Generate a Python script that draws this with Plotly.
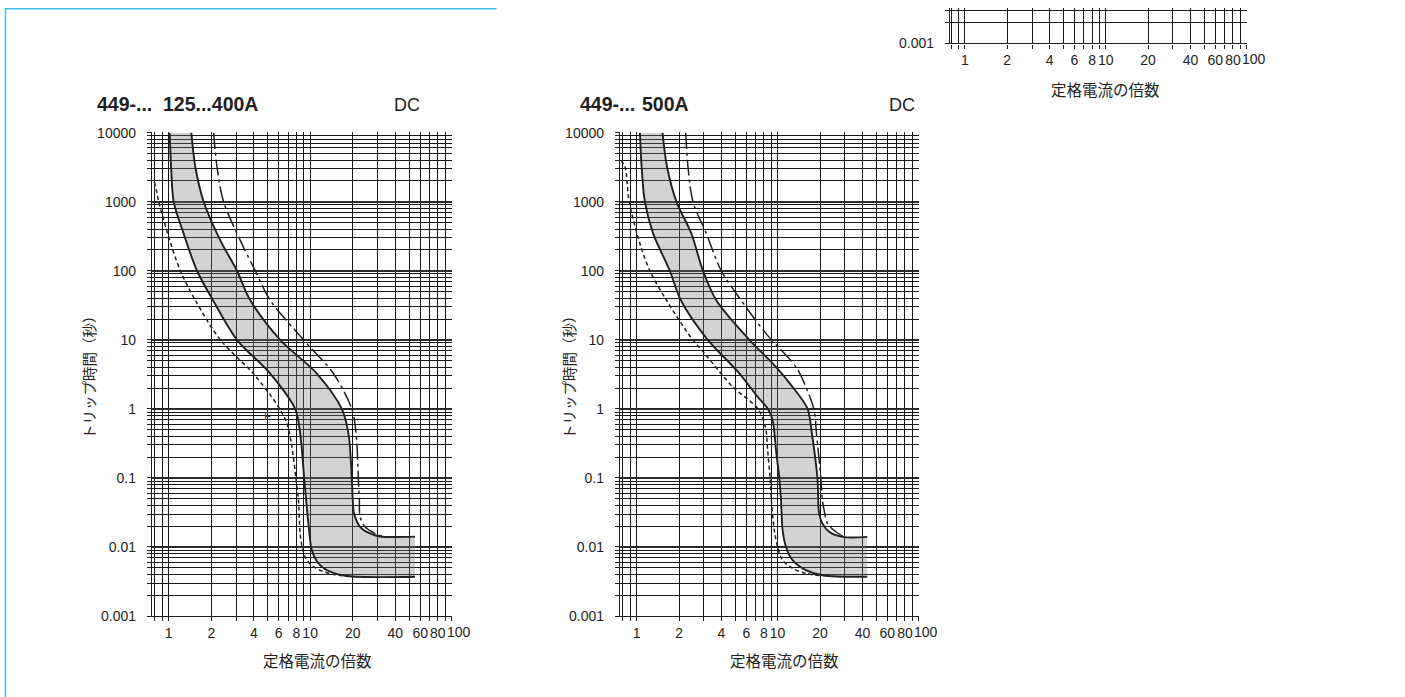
import plotly.graph_objects as go

# ---------------- axis ticks ----------------
x_major = [1, 2, 4, 6, 8, 10, 20, 40, 60, 80, 100]
x_major_text = ["1", "2", "4", "6", "8", "10", "20", "40", "60", "80", ""]
x_last_label = "100"
x_minor = [0.8, 0.9, 3, 5, 7, 9, 30, 50, 70, 90]
y_major = [0.001, 0.01, 0.1, 1, 10, 100, 1000, 10000]
y_major_text = ["0.001", "0.01", "0.1", "1", "10", "100", "1000", "10000"]
y_minor = [0.002, 0.003, 0.004, 0.005, 0.006, 0.007, 0.008, 0.009,
           0.02, 0.03, 0.04, 0.05, 0.06, 0.07, 0.08, 0.09,
           0.2, 0.3, 0.4, 0.5, 0.6, 0.7, 0.8, 0.9,
           2, 3, 4, 5, 6, 7, 8, 9,
           20, 30, 40, 50, 60, 70, 80, 90,
           200, 300, 400, 500, 600, 700, 800, 900,
           2000, 3000, 4000, 5000, 6000, 7000, 8000, 9000]

# ---------------- 449-... 125...400A (DC) ----------------
L_lo_I = [1.016, 1.04, 1.085, 1.276, 1.586, 2.058, 3.039, 5.222, 7.838, 8.50, 9.07, 9.37, 9.89, 10.28, 11.45, 13.84, 18.16, 55.1]
L_lo_t = [10000, 3180, 1000, 345, 100, 37.4, 10, 3.25, 1.0, 0.445, 0.1, 0.0477, 0.0157, 0.009, 0.0058, 0.00438, 0.0038, 0.0037]
L_hi_I = [1.446, 1.543, 1.766, 2.317, 3.039, 3.773, 6.142, 11.15, 16.74, 18.64, 19.70, 20.01, 20.44, 22.54, 26.5, 31.2, 55.1]
L_hi_t = [10000, 3180, 1000, 276, 100, 37.4, 10, 3.25, 1.0, 0.445, 0.1, 0.0477, 0.0306, 0.0196, 0.0157, 0.0142, 0.0141]
L_dl_I = [0.793, 0.819, 0.850, 0.984, 1.209, 1.543, 2.317, 3.961, 5.974, 6.848, 7.429, 7.966, 8.27, 8.50, 8.88, 9.48, 10.55, 12.41, 15.01, 19.16]
L_dl_t = [1910, 1462, 1000, 345, 100, 37.4, 10, 3.25, 1.07, 0.615, 0.282, 0.093, 0.0477, 0.0157, 0.009, 0.00646, 0.00518, 0.00438, 0.00396, 0.00375]
L_dd_I = [2.078, 2.196, 2.444, 3.206, 4.092, 5.222, 8.97, 14.6, 19.70, 21.12, 21.92, 22.28, 22.54, 24.44, 28.75, 32.9]
L_dd_t = [10000, 3180, 1000, 276, 100, 37.4, 10, 3.25, 1.0, 0.445, 0.1, 0.0477, 0.0273, 0.0196, 0.0157, 0.0141]

# ---------------- 449-... 500A (DC) ----------------
R_lo_I = [1.055, 1.085, 1.144, 1.31, 1.719, 2.06, 3.121, 5.364, 7.224, 8.5, 9.22, 9.74, 10.28, 10.57, 10.85, 11.47, 12.76, 15.87, 20.78, 43.2]
R_lo_t = [10000, 3180, 1000, 345, 100, 37.4, 10.6, 3.25, 1.49, 1.01, 0.687, 0.252, 0.1, 0.0477, 0.0176, 0.01, 0.00646, 0.00463, 0.0039, 0.0037]
R_hi_I = [1.526, 1.644, 1.916, 2.446, 2.953, 3.673, 6.14, 9.74, 12.76, 16.29, 17.5, 19.16, 19.7, 20.78, 23.18, 28.77, 43.2]
R_hi_t = [10000, 3180, 1000, 345, 100, 37.4, 10.6, 4.05, 2.08, 1.01, 0.44, 0.1, 0.0306, 0.022, 0.0166, 0.014, 0.014]
R_dl_I = [0.775, 0.827, 0.886, 1.055, 1.241, 1.628, 2.446, 3.036, 4.81, 7.224, 8.19, 8.5, 8.84, 9.03, 9.48, 10.0, 10.85, 12.76, 15.87, 20.78]
R_dl_t = [3970, 3180, 1000, 248, 100, 37.4, 10.6, 6.34, 2.08, 1.01, 0.55, 0.252, 0.1, 0.0477, 0.0176, 0.01, 0.00646, 0.0049, 0.00415, 0.0038]
R_dd_I = [2.229, 2.314, 2.51, 3.121, 3.984, 5.514, 8.28, 13.49, 15.87, 18.16, 18.86, 20.25, 20.78, 21.37, 22.55, 25.85, 29.58]
R_dd_t = [10000, 3180, 1000, 345, 100, 37.4, 12.3, 4.05, 2.08, 0.957, 0.44, 0.1, 0.0477, 0.0342, 0.022, 0.0166, 0.014]

# ---------------- partial chart at top right ----------------
T_lo_I = [8.5, 8.79, 9.3, 9.85, 10.7, 34.4]
T_lo_t = [0.006, 0.0045, 0.0041, 0.00385, 0.0037, 0.0037]
T_hi_I = [8.0, 34.4]
T_hi_t = [0.014, 0.014]
T_dl_I = [7.8, 8.37, 9.0, 10.5]
T_dl_t = [0.006, 0.0042, 0.0039, 0.0037]

INK = "#231f20"
GRID = "#161616"
FILL = "rgba(120,120,120,0.33)"
LAT = "Liberation Sans, Arial, sans-serif"
CJK = "Noto Sans CJK JP, sans-serif"

# Layout positions are written in target-picture pixels and mapped to the page.
W, H = 1405, 705
VS, VOFF = 697 / 713, 8   # vertical scale / offset observed for the photographed page


def px(x):
    return x / W


def fy(y):  # target pixel -> figure pixel
    return y / VS - VOFF


def py(y):
    return 1 - fy(y) / H


fig = go.Figure()


def add_chart(n, lo_I, lo_t, hi_I, hi_t, dl_I=None, dl_t=None, dd_I=None, dd_t=None):
    xa = "x" if n == 1 else f"x{n}"
    ya = "y" if n == 1 else f"y{n}"
    fig.add_trace(go.Scatter(
        x=hi_I + lo_I[::-1], y=hi_t + lo_t[::-1], fill="toself", fillcolor=FILL,
        mode="lines", line=dict(width=0), xaxis=xa, yaxis=ya, hoverinfo="skip"))
    for xs, ys, w, dash in [(lo_I, lo_t, 1.9, "solid"), (hi_I, hi_t, 1.9, "solid"),
                            (dl_I, dl_t, 1.5, "4px,3px"), (dd_I, dd_t, 1.5, "16px,4px,3px,4px")]:
        if xs is None:
            continue
        fig.add_trace(go.Scatter(x=xs, y=ys, mode="lines", xaxis=xa, yaxis=ya,
                                 line=dict(color=INK, width=w, dash=dash, shape="spline", smoothing=0.9)))
    # last x tick label ("100"), set just right of its tick as in the original
    fig.add_annotation(text=x_last_label, x=2, xref=xa, y=0, yref=f"{ya} domain",
                       xanchor="left", yanchor="middle", xshift=-6.5, yshift=-16,
                       showarrow=False, font=dict(family=LAT, size=14, color=INK))


add_chart(1, L_lo_I, L_lo_t, L_hi_I, L_hi_t, L_dl_I, L_dl_t, L_dd_I, L_dd_t)
add_chart(2, R_lo_I, R_lo_t, R_hi_I, R_hi_t, R_dl_I, R_dl_t, R_dd_I, R_dd_t)
add_chart(3, T_lo_I, T_lo_t, T_hi_I, T_hi_t, T_dl_I, T_dl_t)


def xax(x0, x1, rng, anchor):
    return dict(type="log", domain=[px(x0), px(x1)], range=rng, anchor=anchor,
                tickmode="array", tickvals=x_major, ticktext=x_major_text, tickangle=0,
                ticks="outside", ticklen=4, tickwidth=1, tickcolor=INK,
                showgrid=True, gridcolor=GRID, gridwidth=1.1,
                showline=True, linecolor=INK, linewidth=1.3,
                tickfont=dict(family=LAT, size=14, color=INK), ticklabelstandoff=0,
                minor=dict(tickvals=x_minor, ticks="outside", ticklen=4, tickcolor=INK,
                           showgrid=True, gridcolor=GRID, gridwidth=1.1),
                zeroline=False, fixedrange=True)


def yax(y0, y1, rng, anchor):
    return dict(type="log", domain=[py(y1), min(1, py(y0))], range=rng, anchor=anchor,
                tickmode="array", tickvals=y_major, ticktext=y_major_text,
                ticks="outside", ticklen=4, tickwidth=1, tickcolor=INK,
                showgrid=True, gridcolor="#2a2a2a", gridwidth=1.6,
                showline=True, linecolor=INK, linewidth=1.3,
                tickfont=dict(family=LAT, size=14, color=INK), ticklabelstandoff=8,
                minor=dict(tickvals=y_minor, ticks="outside", ticklen=4, tickcolor=INK,
                           showgrid=True, gridcolor=GRID, gridwidth=1.1),
                zeroline=False, fixedrange=True)


DEC = 69.1          # target pixels per decade on the time axis
TOP = VOFF * VS     # highest target pixel that the page can reach
fig.update_layout(
    width=W, height=H, margin=dict(l=0, r=0, t=0, b=0),
    paper_bgcolor="white", plot_bgcolor="white", showlegend=False,
    xaxis=xax(152, 452, [-0.118, 2.003], "y"),
    yaxis=yax(132.3, 616, [-3, 4.003], "x"),
    xaxis2=xax(620, 919, [-0.118, 2.003], "y2"),
    yaxis2=yax(132.3, 616, [-3, 4.003], "x2"),
    xaxis3=xax(950, 1247, [-0.105, 2.003], "y3"),
    yaxis3=yax(TOP, 43.3, [-3, -3 + (43.3 - TOP) / DEC], "x3"),
)


def ann(text, x, y, size, family=LAT, bold=False, xanchor="left", angle=0, color=INK):
    fig.add_annotation(text=f"<b>{text}</b>" if bold else text, x=px(x), y=py(y),
                       xref="paper", yref="paper", showarrow=False, xanchor=xanchor,
                       yanchor="middle", textangle=angle,
                       font=dict(family=family, size=size, color=color))


ann("449-...", 95, 104, 19.5, bold=True)
ann("125...400A", 161, 104, 19.5, bold=True)
ann("DC", 407, 105, 18, xanchor="center")
ann("449-...", 578, 104, 19.5, bold=True)
ann("500A", 640, 104, 19.5, bold=True)
ann("DC", 902, 105, 18, xanchor="center")
ann("定格電流の倍数", 317, 660, 15.5, family=CJK, xanchor="center")
ann("定格電流の倍数", 784, 660, 15.5, family=CJK, xanchor="center")
ann("定格電流の倍数", 1105, 89, 15.5, family=CJK, xanchor="center")
ann("トリップ時間（秒）", 88, 374, 14.5, family=CJK, xanchor="center", angle=-90)
ann("トリップ時間（秒）", 568, 374, 14.5, family=CJK, xanchor="center", angle=-90)
ann("F", 267, 416, 11, xanchor="center", color="#444444")

CYAN = "#3fbfe8"
for x0, y0, x1, y1 in [(5, TOP + 0.8, 496, TOP + 0.8), (5.5, TOP, 5.5, 697), (496, TOP, 496, TOP + 0.8)]:
    fig.add_shape(type="line", xref="paper", yref="paper",
                  x0=px(x0), x1=px(x1), y0=py(y0), y1=py(y1),
                  line=dict(color=CYAN, width=1.5))

fig.write_html("out.html", config={"displayModeBar": False},
               post_script="document.body.style.margin='0';document.body.style.overflow='hidden';")
